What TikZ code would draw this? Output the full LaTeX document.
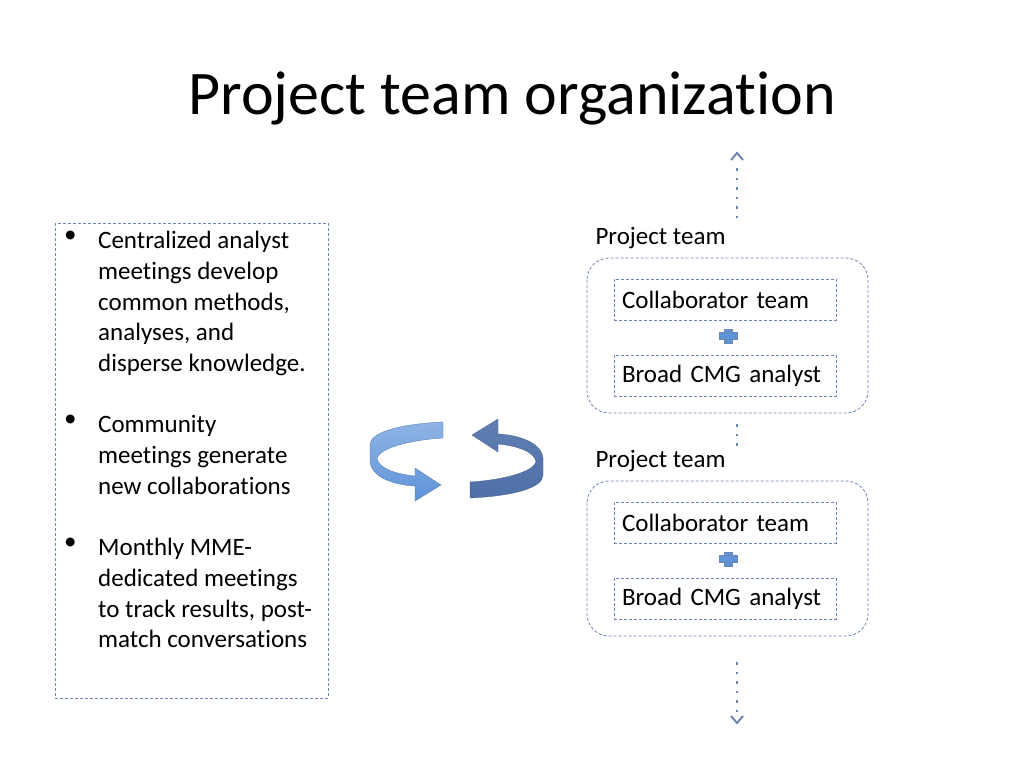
\documentclass[tikz,border=0pt]{standalone}
\usepackage{fontspec}
\setmainfont[Ligatures=NoCommon]{Carlito}
\definecolor{dashblue}{HTML}{6E86B0}
\definecolor{lightarrow}{HTML}{5E93D8}
\definecolor{darkarrow}{HTML}{4F70A8}
\tikzset{
  dashbox/.style={draw=dashblue,line width=0.8pt,dash pattern=on 3pt off 2pt},
  teambox/.style={dashbox,rounded corners=22pt},
  memberbox/.style={dashbox,minimum width=222pt,minimum height=41pt,font=\fontsize{25}{29}\selectfont,text width=206pt,align=left},
  teamlabel/.style={anchor=west,font=\fontsize{25}{29}\selectfont},
  bullettext/.style={anchor=north west,align=left,inner sep=0pt,font=\fontsize{25}{30.8}\selectfont},
  bulletmark/.style={anchor=north west,inner sep=0pt,font=\fontsize{25}{30.8}\selectfont},
  dotline/.style={draw=dashblue,line width=2.5pt,dash pattern=on 2.5pt off 7pt},
  plusmark/.style={fill=lightarrow,draw=dashblue,line width=0.4pt}
}
\begin{document}
\begin{tikzpicture}[x=1pt,y=-1pt]
  \useasboundingbox (0,0) rectangle (1024,768);
  \node[font=\fontsize{62}{70}\selectfont] (title) at (512,98) {Project team organization};
  % left text box
  \draw[dashbox] (55,223) rectangle (328,698);
  \foreach \j/\ty/\txt in {1/231/{Centralized analyst\\meetings develop\\common methods,\\analyses, and\\disperse knowledge.},
      2/415/{Community\\meetings generate\\new collaborations},
      3/538/{Monthly MME-\\dedicated meetings\\to track results, post-\\match conversations}}{
    \node[bulletmark] (dot\j) at (64,\ty) {\textbullet};
    \node[bullettext] (item\j) at (98,\ty) {\txt};
  }
  % cycle arrows
  \begin{scope}
    \shade[top color=lightarrow!70,bottom color=lightarrow,draw=lightarrow!80!black,line width=0.3pt]
      (443,422) .. controls (400,424) and (370,432) .. (370,445) -- (370,462)
      .. controls (372,478) and (395,485) .. (415,486) -- (415,501) -- (441,485) -- (415,468) -- (415,476)
      .. controls (395,474) and (378,468) .. (377,458) .. controls (380,448) and (410,440) .. (443,438) -- cycle;
    \shade[top color=darkarrow!90!white,bottom color=darkarrow,draw=darkarrow!80!black,line width=0.3pt,rotate around={180:(456.5,460)}]
      (443,422) .. controls (400,424) and (370,432) .. (370,445) -- (370,462)
      .. controls (372,478) and (395,485) .. (415,486) -- (415,501) -- (441,485) -- (415,468) -- (415,476)
      .. controls (395,474) and (378,468) .. (377,458) .. controls (380,448) and (410,440) .. (443,438) -- cycle;
  \end{scope}
  % project teams
  \foreach \i/\dy in {1/0,2/223}{
    \node[teamlabel] (label\i) at (592,238+\dy) {Project team};
    \draw[teambox] (587,258+\dy) rectangle (868,413+\dy);
    \node[memberbox] (collab\i) at (725,299.5+\dy) {Collaborator team};
    \node[memberbox] (broad\i) at (725,375.5+\dy) {Broad CMG analyst};
    \fill[plusmark] (724,329+\dy) rectangle (732,343+\dy);
    \fill[plusmark] (719,332.5+\dy) rectangle (737,339.5+\dy);
  }
  \coordinate (topstart) at (737,218);
  \coordinate (bottomstart) at (737,662);
  \draw[dotline] (topstart) -- (737,166);
  \draw[draw=dashblue,line width=2pt] (731,160) -- (737,153) -- (743,160);
  \draw[dotline] (737,424) -- (737,446);
  \draw[dotline] (bottomstart) -- (737,712);
  \draw[draw=dashblue,line width=2pt] (731,716) -- (737,723) -- (743,716);
\end{tikzpicture}
\end{document}
